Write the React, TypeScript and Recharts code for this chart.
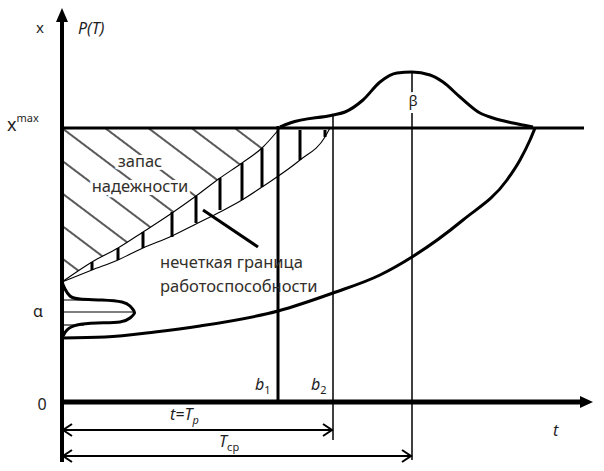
import { ComposedChart, Line, Area, Scatter, ErrorBar, XAxis, YAxis } from "recharts";

// chart units: t = time axis, v = state parameter x
const X_MAX = 274;
const T_B1 = 216;
const T_P = 271; // b2
const T_CP = 350; // centre of the β distribution

// fuzzy boundary: upper and lower edges of the band
const upperEdge = [
  { t: 0, v: 120 }, { t: 30, v: 140 }, { t: 56, v: 154 }, { t: 81, v: 170 }, { t: 110, v: 189 },
  { t: 134, v: 206 }, { t: 158, v: 224 }, { t: 180, v: 239 }, { t: 200, v: 254 }, { t: 218, v: 274 },
];
const lowerEdge = [
  { t: 0, v: 120 }, { t: 30, v: 132 }, { t: 56, v: 142 }, { t: 81, v: 154 }, { t: 110, v: 166 },
  { t: 134, v: 178 }, { t: 158, v: 190 }, { t: 180, v: 202 }, { t: 200, v: 215 }, { t: 238, v: 242 },
  { t: 263, v: 265 }, { t: 268, v: 274 },
];
// short strokes across the band
const bandTicks = [
  { t: 30, lo: 132, hi: 140 }, { t: 56, lo: 142, hi: 154 }, { t: 81, lo: 154, hi: 170 },
  { t: 110, lo: 165, hi: 190 }, { t: 134, lo: 179, hi: 206 }, { t: 158, lo: 192, hi: 224 },
  { t: 180, lo: 202, hi: 239 }, { t: 200, lo: 215, hi: 254 }, { t: 238, lo: 242, hi: 272 },
  { t: 263, lo: 265, hi: 272 },
];
// initial distribution of x (α), drawn sideways on the x axis
const alphaDist = [
  { t: 0, v: 120 }, { t: 3, v: 113 }, { t: 8, v: 106 }, { t: 18, v: 103 }, { t: 40, v: 102 },
  { t: 60, v: 100 }, { t: 68, v: 96 }, { t: 72, v: 91 }, { t: 72, v: 88 }, { t: 68, v: 84 },
  { t: 58, v: 80 }, { t: 35, v: 79 }, { t: 15, v: 77 }, { t: 5, v: 72 }, { t: 1, v: 66 }, { t: 0, v: 64 },
];
const alphaLevels = [
  { v: 102, tEnd: 40 }, { v: 90, tEnd: 72 }, { v: 77, tEnd: 22 },
];
// drift of x towards x^max
const driftCurve = [
  { t: 0, v: 64 }, { t: 43, v: 65 }, { t: 93, v: 70 }, { t: 138, v: 76 }, { t: 216, v: 91 },
  { t: 271, v: 109 }, { t: 318, v: 127 }, { t: 350, v: 145 }, { t: 401, v: 182 }, { t: 445, v: 222 },
  { t: 458, v: 242 }, { t: 468, v: 262 }, { t: 473, v: 274 },
];
// failure-time density (β)
const betaDist = [
  { t: 218, v: 275 }, { t: 228, v: 279 }, { t: 271, v: 287 }, { t: 283, v: 290 }, { t: 301, v: 302 },
  { t: 318, v: 320 }, { t: 335, v: 329 }, { t: 350, v: 330 }, { t: 368, v: 327 }, { t: 381, v: 320 },
  { t: 398, v: 305 }, { t: 418, v: 289 }, { t: 431, v: 284 }, { t: 451, v: 279 }, { t: 471, v: 275 },
];

const seg = (a: [number, number], b: [number, number]) => [{ t: a[0], v: a[1] }, { t: b[0], v: b[1] }];

const hatchData = upperEdge.map((p) => ({ t: p.t, band: [p.v, X_MAX] }));
const tickData = bandTicks.map((d) => ({ t: d.t, v: d.lo, err: [0, d.hi - d.lo] }));

const arrowTips = [
  { t: 0, v: 394, dir: "up", solid: true },
  { t: 531, v: 0, dir: "right", solid: true },
  { t: 0, v: -28, dir: "left" },
  { t: T_P, v: -28, dir: "right" },
  { t: 0, v: -54, dir: "left" },
  { t: T_CP, v: -54, dir: "right" },
];

const notes = [
  { t: -26, v: 369, text: "x", size: 15 },
  { t: 16, v: 368, text: "P(T)", italic: true, size: 16 },
  { t: -55, v: 271, text: "x", sup: "max", size: 18 },
  { t: -24, v: 85, text: "α", anchor: "middle", size: 16 },
  { t: -20, v: -8, text: "0", anchor: "middle", size: 16 },
  { t: 193, v: 12, text: "b", sub: "1", italic: true, size: 16 },
  { t: 249, v: 12, text: "b", sub: "2", italic: true, size: 16 },
  { t: 108, v: -18, text: "t=T", sub: "p", italic: true, subItalic: true, size: 16 },
  { t: 157, v: -45, text: "T", sub: "ср", italic: true, size: 16 },
  { t: 491, v: -34, text: "t", italic: true, size: 16 },
  { t: 351, v: 296, text: "β", anchor: "middle", size: 15, halo: true },
  { t: 78, v: 235, text: "запас", anchor: "middle", size: 16.5, halo: true },
  { t: 78, v: 210, text: "надежности", anchor: "middle", size: 16.5, halo: true },
  { t: 98, v: 134, text: "нечеткая граница", size: 16.5 },
  { t: 98, v: 110, text: "работоспособности", size: 16.5 },
];

const FONT = "'Noto Sans', 'DejaVu Sans', sans-serif";

const renderNote = (props: any) => {
  const { cx, cy, payload: n } = props;
  const cyr = /[а-я]/i.test(n.text);
  return (
    <text
      x={cx}
      y={cy}
      textAnchor={n.anchor ?? "start"}
      fontSize={n.size}
      fontFamily={FONT}
      fontStyle={n.italic ? "italic" : "normal"}
      fill={cyr ? "#33302b" : "#1e1e1e"}
      stroke={n.halo ? "#fff" : "none"}
      strokeWidth={n.halo ? 6 : 0}
      paintOrder="stroke"
    >
      {n.text}
      {n.sub && (
        <tspan fontSize={11} dy={4} fontStyle={n.subItalic ? "italic" : "normal"}>
          {n.sub}
        </tspan>
      )}
      {n.sup && (
        <tspan fontSize={11} dy={-9}>
          {n.sup}
        </tspan>
      )}
    </text>
  );
};

const renderTip = (props: any) => {
  const { cx, cy, payload: a } = props;
  if (a.solid) {
    const d =
      a.dir === "up"
        ? `M${cx},${cy} L${cx - 6},${cy + 14} L${cx + 6},${cy + 14} Z`
        : `M${cx},${cy} L${cx - 13},${cy - 6} L${cx - 13},${cy + 6} Z`;
    return <path d={d} fill="#000" stroke="none" />;
  }
  const k = a.dir === "left" ? 1 : -1;
  return (
    <path
      d={`M${cx + 10 * k},${cy - 6} L${cx + k},${cy} L${cx + 10 * k},${cy + 6}`}
      fill="none"
      stroke="#000"
      strokeWidth={2}
    />
  );
};

const hidden = () => <g />;

const lineProps = { dataKey: "v", dot: false, activeDot: false, isAnimationActive: false, stroke: "#000", legendType: "none" as const };

export default function App() {
  return (
    <div style={{ position: "absolute", left: 0, top: 0, background: "#fff" }}>
      <ComposedChart width={604} height={471} margin={{ top: 0, right: 0, bottom: 0, left: 0 }}>
        <defs>
          <pattern id="hatch" patternUnits="userSpaceOnUse" width={8} height={26} patternTransform="rotate(37)">
            <line x1={0} y1={13} x2={8} y2={13} stroke="#000" strokeWidth={1.3} />
          </pattern>
        </defs>
        <XAxis type="number" dataKey="t" domain={[-62, 542]} allowDataOverflow hide />
        <YAxis type="number" dataKey="v" domain={[-69, 402]} allowDataOverflow hide />

        <Area
          data={hatchData}
          dataKey="band"
          type="monotone"
          stroke="none"
          fill="url(#hatch)"
          fillOpacity={1}
          isAnimationActive={false}
          activeDot={false}
        />

        <Line {...lineProps} data={upperEdge} type="monotone" strokeWidth={1.1} />
        <Line {...lineProps} data={lowerEdge} type="monotone" strokeWidth={1.1} />
        <Scatter data={tickData} shape={hidden} isAnimationActive={false}>
          <ErrorBar dataKey="err" direction="y" width={0} stroke="#000" strokeWidth={3} isAnimationActive={false} />
        </Scatter>

        {alphaLevels.map((l, i) => (
          <Line key={i} {...lineProps} data={seg([0, l.v], [l.tEnd, l.v])} type="linear" strokeWidth={1.1} />
        ))}
        <Line {...lineProps} data={alphaDist} type="natural" strokeWidth={3} />
        <Line {...lineProps} data={driftCurve} type="monotone" strokeWidth={3} />
        <Line {...lineProps} data={betaDist} type="monotone" strokeWidth={3} />

        <Line {...lineProps} data={seg([0, X_MAX], [522, X_MAX])} type="linear" strokeWidth={3} />
        <Line {...lineProps} data={seg([T_B1, 0], [T_B1, 276])} type="linear" strokeWidth={3} />
        <Line {...lineProps} data={seg([T_P, -38], [T_P, 287])} type="linear" strokeWidth={1.5} />
        <Line {...lineProps} data={seg([T_CP, -58], [T_CP, 330])} type="linear" strokeWidth={1.5} />
        <Line {...lineProps} data={seg([0, -28], [T_P, -28])} type="linear" strokeWidth={2} />
        <Line {...lineProps} data={seg([0, -54], [T_CP, -54])} type="linear" strokeWidth={2} />
        <Line {...lineProps} data={seg([141, 192], [196, 155])} type="linear" strokeWidth={3} />

        <Line {...lineProps} data={seg([0, -60], [0, 384])} type="linear" strokeWidth={4} />
        <Line {...lineProps} data={seg([0, 0], [520, 0])} type="linear" strokeWidth={5} />
        <Scatter data={arrowTips} shape={renderTip} isAnimationActive={false} />
        <Scatter data={notes} shape={renderNote} isAnimationActive={false} />
      </ComposedChart>
    </div>
  );
}
